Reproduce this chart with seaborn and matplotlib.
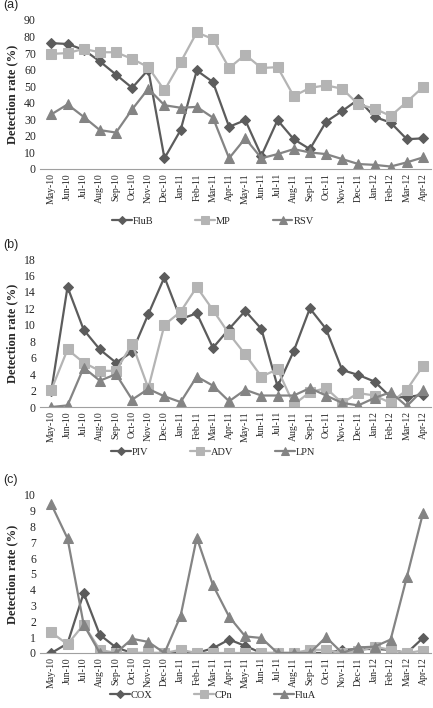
import numpy as np
import pandas as pd
import seaborn as sns
import matplotlib.pyplot as plt

months = ['May-10', 'Jun-10', 'Jul-10', 'Aug-10', 'Sep-10', 'Oct-10', 'Nov-10', 'Dec-10',
          'Jan-11', 'Feb-11', 'Mar-11', 'Apr-11', 'May-11', 'Jun-11', 'Jul-11', 'Aug-11',
          'Sep-11', 'Oct-11', 'Nov-11', 'Dec-11', 'Jan-12', 'Feb-12', 'Mar-12', 'Apr-12']

# (a)
flub = [76, 75.5, 72, 65, 57, 49, 60, 6.5, 23.5, 59.5, 52.5, 25.5, 29.5, 8, 29.5, 18,
        12, 28.5, 35, 42, 31.5, 28, 18, 18.5]
mp = [69.5, 70, 72.5, 70.5, 70.5, 66.5, 61.5, 47.5, 64.5, 82.5, 78.5, 61, 69, 61, 61.5, 44,
      49, 50.5, 48.5, 39, 36.5, 32, 40.5, 49.5]
rsv = [33, 39, 31.5, 23.5, 22, 36, 48.5, 38.5, 37, 37.5, 31, 6.5, 18.5, 6.5, 9, 12,
       10, 9, 6, 3, 2.5, 1.5, 4, 7]

# (b)
piv = [2, 14.6, 9.4, 7, 5.4, 6.7, 11.3, 15.8, 10.7, 11.4, 7.2, 9.5, 11.7, 9.5, 2.5, 6.8,
       12, 9.5, 4.5, 3.9, 3.1, 1.2, 1.2, 1.5]
adv = [2.1, 7, 5.4, 4.4, 4.4, 7.7, 2.3, 10, 11.6, 14.6, 11.8, 8.9, 6.4, 3.7, 4.6, 0.3,
       1.8, 2.3, 0.5, 1.7, 1.4, 0.5, 2.1, 5]
lpn = [0, 0.2, 4.8, 3.2, 4, 0.9, 2.2, 1.3, 0.6, 3.7, 2.6, 0.7, 2.1, 1.4, 1.4, 1.4,
       2.3, 1.4, 0.5, 0.2, 1.1, 1.8, 0.1, 2.1]

# (c)
cox = [0, 0.6, 3.8, 1.15, 0.35, 0, 0, 0, 0, 0, 0.3, 0.85, 0.45, 0, 0, 0,
       0, 0, 0.2, 0.25, 0.25, 0.2, 0, 0.95]
cpn = [1.3, 0.55, 1.8, 0.2, 0, 0, 0, 0, 0.2, 0, 0, 0, 0, 0, 0, 0,
       0.2, 0.2, 0, 0.1, 0.4, 0.2, 0, 0.15]
flua = [9.4, 7.25, 1.8, 0, 0, 0.9, 0.7, 0, 2.35, 7.3, 4.3, 2.3, 1.05, 0.95, 0, 0,
        0, 1.0, 0, 0.35, 0.4, 0.85, 4.8, 8.85]

# tag, series, ymax, step, axes bottom/height (fig frac), legend centre y (px from top)
panels = [
    ('(a)', [('FluB', flub), ('MP', mp), ('RSV', rsv)], 90, 10, [0.7613, 0.2105], 221),
    ('(b)', [('PIV', piv), ('ADV', adv), ('LPN', lpn)], 18, 2, [0.4251, 0.2090], 452),
    ('(c)', [('COX', cox), ('CPn', cpn), ('FluA', flua)], 10, 1, [0.0777, 0.2232], 695),
]

colors = ['#5c5c5c', '#b4b4b4', '#848484']
marks = ['D', 's', '^']
msizes = [5, 7, 7.5]

sns.set_style('white')
plt.rcParams['font.family'] = ['Liberation Serif', 'DejaVu Serif']

fig = plt.figure(figsize=(4.33, 7.08), dpi=100)

for tag, series, ymax, step, (bottom, height), leg_y in panels:
    ax = fig.add_axes([0.0925, bottom, 0.9030, height])
    rows = []
    for name, vals in series:
        for i, v in enumerate(vals):
            rows.append({'x': i, 'y': v, 'name': name})
    df = pd.DataFrame(rows)
    names = [s[0] for s in series]
    for k, name in enumerate(names):
        sns.lineplot(data=df[df['name'] == name], x='x', y='y', ax=ax, color=colors[k],
                     marker=marks[k], markersize=msizes[k], markeredgecolor=colors[k],
                     linewidth=1.6, label=name)
    ax.set_xlim(-0.7, 23.5)
    ax.set_ylim(0, ymax)
    ax.set_yticks(np.arange(0, ymax + 0.01, step))
    ax.set_xticks(range(24))
    ax.set_xticklabels(months, rotation=90, fontsize=7)
    ax.tick_params(axis='x', length=0, pad=3)
    ax.tick_params(axis='y', labelsize=8.5, length=0, pad=3)
    # tick marks between categories like the original
    ax.set_xticks(np.arange(-0.5, 24, 1), minor=True)
    ax.tick_params(axis='x', which='minor', length=3, color='#a0a0a0', direction='out')
    for s in ['top', 'right', 'left']:
        ax.spines[s].set_visible(False)
    ax.spines['bottom'].set_color('#a0a0a0')
    ax.set_xlabel('')
    ax.set_ylabel('Detection rate (%)', fontsize=9, fontweight='bold', labelpad=4)
    h, l = ax.get_legend_handles_labels()
    ax.legend(h, l, loc='center', bbox_to_anchor=(213 / 433, 1 - leg_y / 708),
              bbox_transform=fig.transFigure, ncol=3, frameon=False, markerscale=0.8,
              fontsize=7.5, handlelength=1.9, handletextpad=0.1, columnspacing=4.0,
              borderaxespad=0, borderpad=0)
    fig.text(0.008, bottom + height + 0.012, tag, fontsize=9, family='Liberation Sans',
             va='bottom', ha='left')

fig.savefig('out.png', dpi=100)
